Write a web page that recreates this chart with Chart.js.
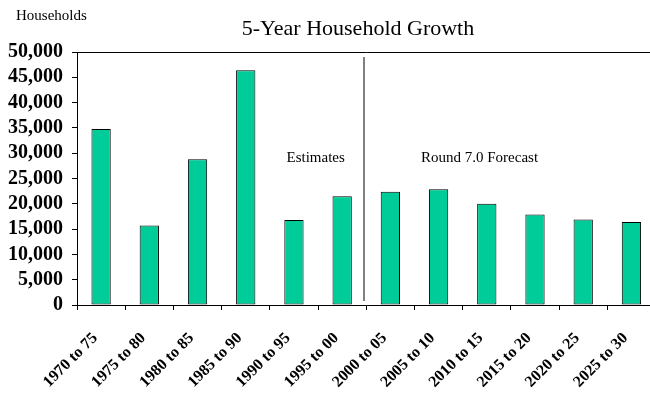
<!DOCTYPE html>
<html>
<head>
<meta charset="utf-8">
<script src="https://cdn.jsdelivr.net/npm/chart.js@4/dist/chart.umd.min.js"></script>
<style>
    body { margin: 0; background: #fff; overflow: hidden; }
</style>
</head>
<body>
<canvas id="growth" width="664" height="393"></canvas>
<script>
// five-year periods and household growth per period
let periods = ['1970 to 75', '1975 to 80', '1980 to 85', '1985 to 90', '1990 to 95', '1995 to 00',
    '2000 to 05', '2005 to 10', '2010 to 15', '2015 to 20', '2020 to 25', '2025 to 30']
let growth = [34800, 15700, 28800, 46400, 16800, 21500, 22400, 22900, 20000, 17900, 16900, 16400]
let yTicks = [0, 5000, 10000, 15000, 20000, 25000, 30000, 35000, 40000, 45000, 50000]

let serif = '"Liberation Serif", "Times New Roman", serif'

// titles, the estimates/forecast split and its labels
let textPlugin = {
    id: 'textPlugin',
    afterDraw(chart) {
        let ctx = chart.ctx
        let x = chart.scales.x
        let y = chart.scales.y
        ctx.save()

        ctx.fillStyle = '#000'
        ctx.textBaseline = 'alphabetic'
        ctx.font = '22px ' + serif
        ctx.textAlign = 'center'
        ctx.fillText('5-Year Household Growth', 358, 35)

        ctx.font = '15px ' + serif
        ctx.textAlign = 'left'
        ctx.fillText('Households', 16, 20)

        // line between the last estimate and the first forecast
        let splitX = Math.round(x.getPixelForValue(5.45))
        ctx.strokeStyle = '#808080'
        ctx.lineWidth = 2
        ctx.beginPath()
        ctx.moveTo(splitX, y.getPixelForValue(49000))
        ctx.lineTo(splitX, y.getPixelForValue(800))
        ctx.stroke()

        ctx.font = '15px ' + serif
        ctx.textAlign = 'center'
        ctx.textBaseline = 'middle'
        ctx.fillText('Estimates', x.getPixelForValue(4.45), y.getPixelForValue(29000))
        ctx.fillText('Round 7.0 Forecast', x.getPixelForValue(7.85), y.getPixelForValue(29000))

        ctx.restore()
    }
}

new Chart(document.getElementById('growth'), {
    type: 'bar',
    data: {
        labels: periods,
        datasets: [{
            data: growth,
            backgroundColor: '#00CC99',
            borderColor: '#000',
            borderWidth: 1,
            borderSkipped: false,
            categoryPercentage: 1,
            barPercentage: 0.4
        }]
    },
    options: {
        responsive: false,
        animation: false,
        layout: {
            padding: { top: 52, right: 0, bottom: 0, left: 0 }
        },
        plugins: {
            legend: { display: false },
            tooltip: { enabled: false }
        },
        scales: {
            x: {
                grid: {
                    offset: true,
                    drawOnChartArea: false,
                    tickLength: 5,
                    tickColor: '#000'
                },
                border: { color: '#000', width: 1 },
                ticks: {
                    color: '#000',
                    minRotation: 45,
                    maxRotation: 45,
                    autoSkip: false,
                    padding: 19,
                    labelOffset: -6,
                    font: { family: serif, size: 16, weight: 'bold' }
                },
                afterFit(scale) {
                    scale.height = 88
                }
            },
            y: {
                min: 0,
                max: 50000,
                grid: {
                    // only the top frame line is drawn across the plot
                    color: (c) => c.tick && c.tick.value === 50000 ? '#000' : 'rgba(0,0,0,0)',
                    tickLength: 5,
                    tickColor: '#000'
                },
                border: { color: '#000', width: 1 },
                afterBuildTicks(scale) {
                    scale.ticks = yTicks.map(v => ({ value: v }))
                },
                ticks: {
                    color: '#000',
                    autoSkip: false,
                    padding: 9,
                    font: { family: serif, size: 20, weight: 'bold' }
                },
                afterFit(scale) {
                    scale.width = 77
                }
            }
        }
    },
    plugins: [textPlugin]
})
</script>
</body>
</html>
